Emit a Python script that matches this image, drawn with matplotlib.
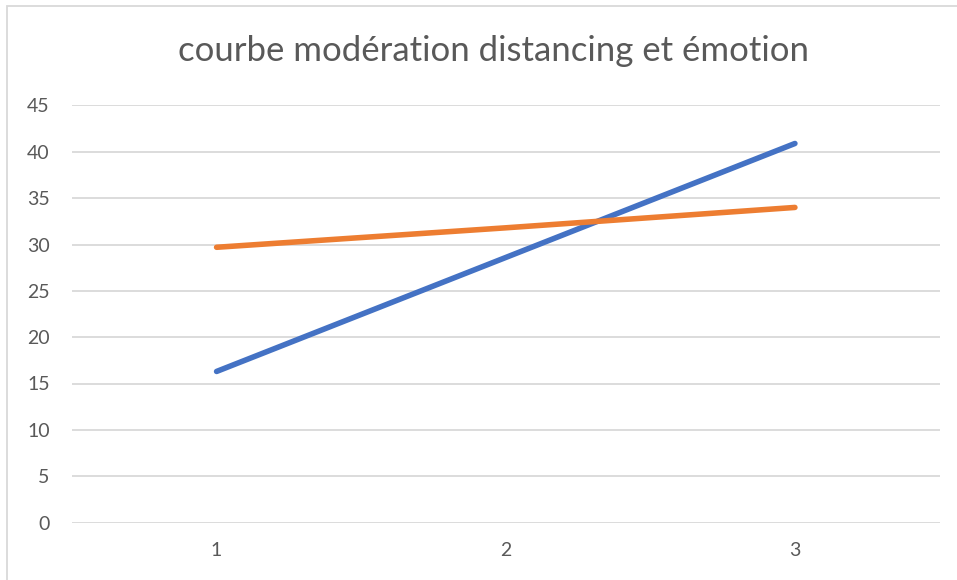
import matplotlib
matplotlib.use("Agg")
import matplotlib.pyplot as plt
from matplotlib.patches import Rectangle

categories = ["1", "2", "3"]
series_blue = [16.3, 28.6, 40.9]
series_orange = [29.7, 31.8, 34.0]
yticks = [0, 5, 10, 15, 20, 25, 30, 35, 40, 45]
title = "courbe modération distancing et émotion"

plt.rcParams['font.family'] = ['Lato', 'DejaVu Sans']

fig = plt.figure(figsize=(9.57, 5.8), dpi=100)
W, H = 957, 580
ax = fig.add_axes([72 / W, 1 - 522.5 / H, (939.5 - 72) / W, (522.5 - 105.5) / H])

x = list(range(1, len(categories) + 1))
ax.plot(x, series_blue, color="#4472C4", lw=4.0, solid_capstyle="round", zorder=3)
ax.plot(x, series_orange, color="#ED7D31", lw=4.0, solid_capstyle="round", zorder=3)

ax.set_xlim(0.5, len(categories) + 0.5)
ax.set_ylim(0, 45)
ax.set_yticks(yticks)
ax.set_xticks(x)
ax.set_xticklabels(categories)
ax.yaxis.grid(True, color="#D9D9D9", lw=1.3)
ax.set_axisbelow(True)
for s in ax.spines.values():
    s.set_visible(False)
ax.tick_params(axis="both", length=0, labelsize=14, colors="#595959", labelcolor="#595959")
ax.tick_params(axis="y", pad=16)
ax.tick_params(axis="x", pad=14)

fig.text(494 / W, 1 - 51 / H, title, ha="center", va="center", fontsize=25, color="#595959")

fig.patches.append(Rectangle((7 / W, -0.05), 1.1, 1 - 6 / H + 0.05, transform=fig.transFigure,
                             fill=False, edgecolor="#D9D9D9", lw=1.3))

fig.savefig("out.png", dpi=100)
